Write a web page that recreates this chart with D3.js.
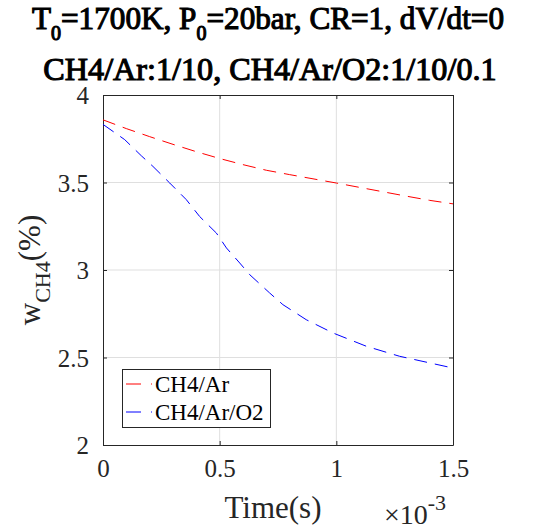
<!DOCTYPE html>
<html>
<head>
<meta charset="utf-8">
<script src="https://cdn.jsdelivr.net/npm/d3@7"></script>
<style>
  body { margin: 0; background: #fff; }
  svg text { font-family: "Liberation Serif", "Times New Roman", serif; }
</style>
</head>
<body>
<svg id="chart" width="533" height="526"></svg>
<script>
// time is in units of 1e-3 s (axis shows x10^-3)
var timeAr = [0, 0.1, 0.2, 0.3, 0.4, 0.5, 0.6, 0.7, 0.8, 0.9, 1.0, 1.1, 1.2, 1.3, 1.4, 1.5]
var wAr = [3.858, 3.808, 3.762, 3.718, 3.676, 3.637, 3.602, 3.570, 3.545, 3.521, 3.497, 3.472, 3.447, 3.422, 3.398, 3.378]

var timeArO2 = [0, 0.093, 0.164, 0.214, 0.286, 0.357, 0.414, 0.486, 0.529, 0.586, 0.629, 0.714, 0.771, 0.871, 0.986, 1.129, 1.271, 1.479]
var wArO2 = [3.832, 3.745, 3.653, 3.592, 3.497, 3.402, 3.306, 3.211, 3.126, 3.040, 2.973, 2.869, 2.802, 2.716, 2.640, 2.564, 2.507, 2.446]

var xTicks = [0, 0.5, 1, 1.5]
var yTicks = [2, 2.5, 3, 3.5, 4]
var seriesNames = ["CH4/Ar", "CH4/Ar/O2"]
var seriesColors = ["#ff0000", "#0000ff"]

var mLeft = 103, mRight = 453, mTop = 95, mBottom = 445

var svg = d3.select('#chart')
var x = d3.scaleLinear().domain([0, 1.5]).range([mLeft, mRight])
var y = d3.scaleLinear().domain([2, 4]).range([mBottom, mTop])

// grid
var grid = svg.append('g').attr('stroke', '#dfdfdf').attr('stroke-width', 1)
grid.selectAll('line.gx').data(xTicks.slice(1, -1)).enter().append('line')
  .attr('x1', d => x(d)).attr('x2', d => x(d)).attr('y1', mTop).attr('y2', mBottom)
grid.selectAll('line.gy').data(yTicks.slice(1, -1)).enter().append('line')
  .attr('y1', d => y(d)).attr('y2', d => y(d)).attr('x1', mLeft).attr('x2', mRight)

// axes with inward ticks
var fmt = d => d3.format('')(d)
var axB = svg.append('g').attr('transform', 'translate(0,' + mBottom + ')')
  .call(d3.axisBottom(x).tickValues(xTicks).tickSizeInner(-4).tickSizeOuter(0).tickPadding(18).tickFormat(fmt))
var axT = svg.append('g').attr('transform', 'translate(0,' + mTop + ')')
  .call(d3.axisTop(x).tickValues(xTicks).tickSizeInner(-4).tickSizeOuter(0).tickFormat(''))
var axL = svg.append('g').attr('transform', 'translate(' + mLeft + ',0)')
  .call(d3.axisLeft(y).tickValues(yTicks).tickSizeInner(-4).tickSizeOuter(0).tickPadding(14).tickFormat(fmt))
var axR = svg.append('g').attr('transform', 'translate(' + mRight + ',0)')
  .call(d3.axisRight(y).tickValues(yTicks).tickSizeInner(-4).tickSizeOuter(0).tickFormat(''))

svg.selectAll('.domain').attr('stroke', '#262626').attr('stroke-width', 1)
svg.selectAll('.tick line').attr('stroke', '#262626')
svg.selectAll('.tick text').attr('font-family', 'Liberation Serif').attr('font-size', 25).attr('fill', '#262626')
axB.selectAll('.tick text').attr('dy', '0.55em')
axL.selectAll('.tick text').attr('dy', '0.35em')

// lines
var line = d3.line().x(d => x(d[0])).y(d => y(d[1]))
var series = [d3.zip(timeAr, wAr), d3.zip(timeArO2, wArO2)]
svg.append('g').selectAll('path').data(series).enter().append('path')
  .attr('d', line)
  .attr('fill', 'none')
  .attr('stroke', (d, i) => seriesColors[i])
  .attr('stroke-width', 1)
  .attr('stroke-dasharray', '13,8')

// legend
var lg = svg.append('g')
lg.append('rect').attr('x', 122.5).attr('y', 369.5).attr('width', 148).attr('height', 58)
  .attr('fill', '#fff').attr('stroke', '#262626').attr('stroke-width', 1)
var rows = lg.selectAll('g.row').data(seriesNames).enter().append('g')
  .attr('transform', (d, i) => 'translate(0,' + (384 + i * 28) + ')')
rows.append('line').attr('x1', 126).attr('x2', 141).attr('y1', 0).attr('y2', 0)
  .attr('stroke', (d, i) => seriesColors[i]).attr('stroke-width', 1)
rows.append('line').attr('x1', 151).attr('x2', 152).attr('y1', 0).attr('y2', 0)
  .attr('stroke', (d, i) => seriesColors[i]).attr('stroke-width', 1)
rows.append('text').attr('x', 155).attr('y', 0).attr('dy', '0.35em')
  .attr('font-size', 23).attr('fill', '#000').text(d => d)

// titles (bold serif drawn as stroked regular serif)
var t1 = svg.append('text').attr('x', 268).attr('y', 29).attr('text-anchor', 'middle')
  .attr('font-size', 31.2).attr('fill', '#000').attr('stroke', '#000').attr('stroke-width', 1.1)
t1.append('tspan').text('T')
t1.append('tspan').attr('font-size', 20).attr('dy', 11).text('0')
t1.append('tspan').attr('dy', -11).text('=1700K, P')
t1.append('tspan').attr('font-size', 20).attr('dy', 11).text('0')
t1.append('tspan').attr('dy', -11).text('=20bar, CR=1, dV/dt=0')
svg.append('text').attr('x', 270).attr('y', 80).attr('text-anchor', 'middle')
  .attr('font-size', 32.2).attr('fill', '#000').attr('stroke', '#000').attr('stroke-width', 1.1)
  .text('CH4/Ar:1/10, CH4/Ar/O2:1/10/0.1')

// axis labels
svg.append('text').attr('x', 273).attr('y', 518).attr('text-anchor', 'middle')
  .attr('font-size', 31).attr('fill', '#262626').text('Time(s)')
var yl = svg.append('text').attr('transform', 'translate(40,270) rotate(-90)')
  .attr('text-anchor', 'middle').attr('font-size', 31).attr('fill', '#262626')
yl.append('tspan').text('w')
yl.append('tspan').attr('font-size', 22).attr('dy', 10).text('CH4')
yl.append('tspan').attr('dy', -10).text('(%)')

var ex = svg.append('text').attr('x', 384).attr('y', 524).attr('font-size', 28).attr('fill', '#262626')
ex.append('tspan').text('\u00d710')
ex.append('tspan').attr('font-size', 22).attr('dy', -14).text('-3')
</script>
</body>
</html>
